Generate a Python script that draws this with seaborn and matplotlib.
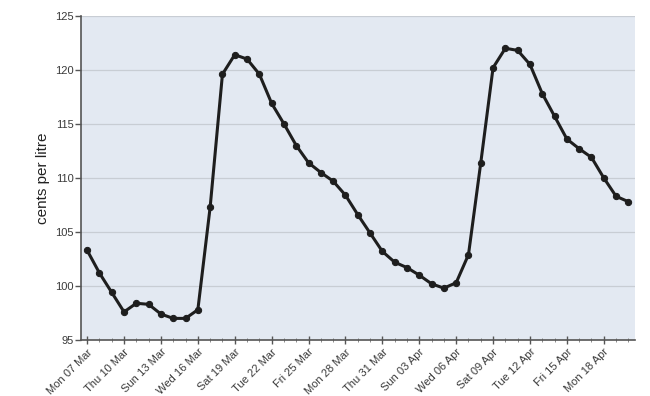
import pandas as pd
import matplotlib
matplotlib.use("Agg")
import matplotlib.pyplot as plt
import matplotlib.dates as mdates
import seaborn as sns

# daily retail price, cents per litre
start_date = "2022-03-07"
prices = [103.3, 101.2, 99.4, 97.6, 98.4, 98.3, 97.4, 97.0, 97.0, 97.8,
          107.3, 119.6, 121.4, 121.0, 119.6, 116.9, 115.0, 113.0, 111.4, 110.5,
          109.7, 108.4, 106.6, 104.9, 103.2, 102.2, 101.7, 101.0, 100.2, 99.8,
          100.3, 102.9, 111.4, 120.2, 122.0, 121.8, 120.5, 117.8, 115.7, 113.6,
          112.7, 111.9, 110.0, 108.3, 107.8]
y_ticks = [95, 100, 105, 110, 115, 120, 125]

df = pd.DataFrame({
    "date": pd.date_range(start_date, periods=len(prices), freq="D"),
    "price": prices,
})

sns.set_style("ticks")
plt.rcParams["font.family"] = ["Liberation Sans", "DejaVu Sans"]

fig = plt.figure(figsize=(6.5, 3.96), dpi=100)
ax = fig.add_axes([0.1246, 0.1414, 0.8524, 0.8186])
ax.set_facecolor("#e3e9f2")

sns.lineplot(data=df, x="date", y="price", ax=ax, color="#1e1e1e",
             linewidth=2.2, marker="o", markersize=4.5,
             markeredgecolor="#1e1e1e", zorder=3)

ax.set_ylim(95, 125)
ax.set_yticks(y_ticks)
ax.yaxis.grid(True, color="#c8cdd4", linewidth=0.9)
ax.set_axisbelow(True)

# half a day of padding either side of the data
x0 = df["date"].iloc[0] - pd.Timedelta(hours=12)
x1 = df["date"].iloc[-1] + pd.Timedelta(hours=13)
ax.set_xlim(x0, x1)
ax.set_xticks(df["date"].iloc[::3].iloc[:15])
ax.xaxis.set_major_formatter(mdates.DateFormatter("%a %d %b"))
ax.xaxis.set_minor_locator(mdates.DayLocator())

for lab in ax.get_xticklabels():
    lab.set_rotation(45)
    lab.set_ha("right")
    lab.set_rotation_mode("anchor")

ax.tick_params(axis="x", which="major", direction="inout", length=6, width=1,
               color="#555555", labelsize=8, labelcolor="#3a3a3a", pad=2)
ax.tick_params(axis="x", which="minor", direction="inout", length=3, width=0.6,
               color="#777777")
ax.tick_params(axis="y", direction="out", length=4, width=1, color="#555555",
               labelsize=8, labelcolor="#3a3a3a", pad=1)

sns.despine(ax=ax)
for side in ["left", "bottom"]:
    ax.spines[side].set_color("#555555")
    ax.spines[side].set_linewidth(1.2)

ax.set_xlabel("")
ax.set_ylabel("cents per litre", fontsize=11, color="#222222", labelpad=4)

fig.savefig("out.png", dpi=100)
